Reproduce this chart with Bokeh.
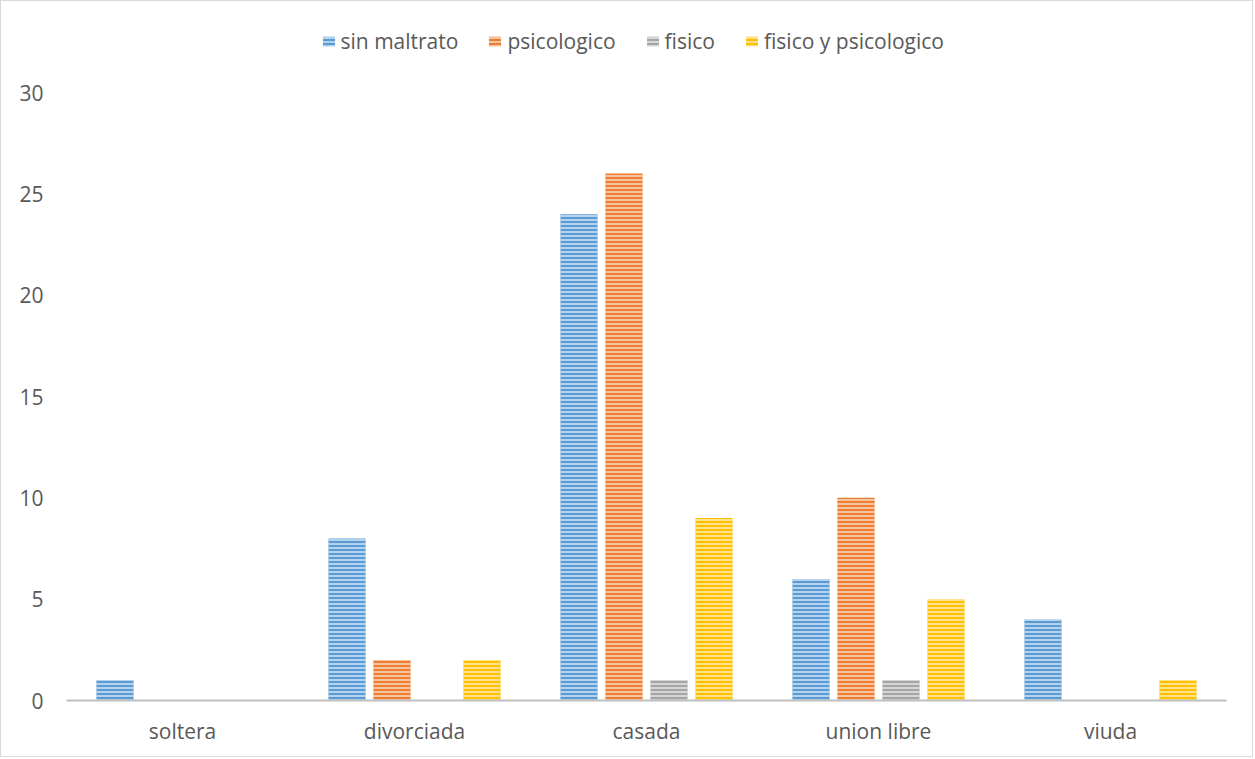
from bokeh.plotting import figure
from bokeh.models import FactorRange, Range1d, FixedTicker, Legend, LegendItem, ColumnDataSource
from bokeh.transform import dodge
from bokeh.embed import file_html
from bokeh.resources import INLINE

# Data
categories = ["soltera", "divorciada", "casada", "union libre", "viuda"]
series_names = ["sin maltrato", "psicologico", "fisico", "fisico y psicologico"]
sin_maltrato = [1, 8, 24, 6, 4]
psicologico = [0, 2, 26, 10, 0]
fisico = [0, 0, 1, 1, 0]
fisico_y_psicologico = [0, 2, 9, 5, 1]
y_ticks = [0, 5, 10, 15, 20, 25, 30]

colors = ["#5B9BD5", "#ED7D31", "#A5A5A5", "#FFC000"]
offsets = [-0.291, -0.097, 0.097, 0.291]
FONT = "Open Sans"
TEXT = "#595959"
SIZE = "21px"

src = ColumnDataSource(dict(
    cat=categories,
    s0=sin_maltrato, s1=psicologico, s2=fisico, s3=fisico_y_psicologico,
))

p = figure(
    x_range=FactorRange(*categories, range_padding=0),
    y_range=Range1d(0, 34),
    width=1253, height=757,
    output_backend="svg", toolbar_location=None,
    min_border_left=65, min_border_right=28, min_border_top=10, min_border_bottom=58,
)
p.styles = {"border": "1px solid #d9d9d9"}
p.background_fill_color = "white"
p.border_fill_color = "white"
p.outline_line_color = None
p.xgrid.grid_line_color = None
p.ygrid.grid_line_color = None

renderers = []
for i, key in enumerate(["s0", "s1", "s2", "s3"]):
    r = p.vbar(
        x=dodge("cat", offsets[i], range=p.x_range), top=key, width=0.16, source=src,
        fill_color=colors[i], line_color=None,
        hatch_pattern="horizontal_line", hatch_color="white", hatch_alpha=0.55,
        hatch_scale=4, hatch_weight=2,
    )
    renderers.append(r)

# Axes
p.yaxis.ticker = FixedTicker(ticks=y_ticks)
p.yaxis.axis_line_color = None
p.yaxis.major_tick_line_color = None
p.yaxis.minor_tick_line_color = None
p.yaxis.major_label_standoff = 17
p.yaxis.major_label_text_font = FONT
p.yaxis.major_label_text_font_size = SIZE
p.yaxis.major_label_text_color = TEXT

p.xaxis.axis_line_color = "#BFBFBF"
p.xaxis.axis_line_width = 2
p.xaxis.major_tick_line_color = None
p.xaxis.minor_tick_line_color = None
p.xaxis.major_label_standoff = 10
p.xaxis.major_label_text_font = FONT
p.xaxis.major_label_text_font_size = SIZE
p.xaxis.major_label_text_color = TEXT

# Legend row across the top, centred on the whole chart
legend = Legend(
    items=[LegendItem(label=n, renderers=[r]) for n, r in zip(series_names, renderers)],
    orientation="horizontal", location=(254.5, 645),
    border_line_color=None, background_fill_alpha=0,
    label_text_font=FONT, label_text_font_size=SIZE, label_text_color=TEXT,
    glyph_width=15, glyph_height=12, label_standoff=5, spacing=29,
    margin=0, padding=0,
)
p.add_layout(legend, "center")

open("out.html", "w").write(file_html(p, INLINE))
